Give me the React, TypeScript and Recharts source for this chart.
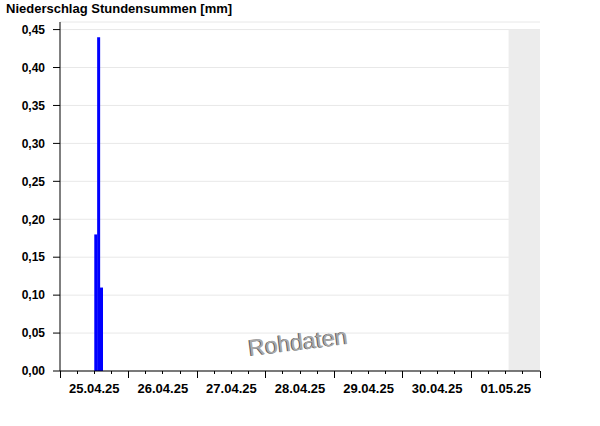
import {
  ComposedChart,
  Bar,
  XAxis,
  YAxis,
  CartesianGrid,
  ReferenceArea,
} from 'recharts'

const FONT = '"Liberation Sans", Arial, sans-serif'

// Stundensummen am 25.04.25: Ende der Stunde (h ab 25.04. 00:00) und Wert in mm
const rainHourEnd = [13, 14, 15]
const rainValues = [0.18, 0.44, 0.11]

// Tageslabels (mittig, 12:00 Uhr)
const dayLabels = ['25.04.25', '26.04.25', '27.04.25', '28.04.25', '29.04.25', '30.04.25', '01.05.25']

// Ticks alle 6 Stunden
const xTicks = [
  0, 6, 12, 18, 24, 30, 36, 42, 48, 54, 60, 66, 72, 78, 84, 90, 96, 102, 108, 114, 120, 126,
  132, 138, 144, 150, 156, 162, 168,
]
const yTicks = [0, 0.05, 0.1, 0.15, 0.2, 0.25, 0.3, 0.35, 0.4, 0.45]
const yTickLabels = ['0,00', '0,05', '0,10', '0,15', '0,20', '0,25', '0,30', '0,35', '0,40', '0,45']

// letzter Messwert 01.05.25 13:00 -> danach grau (keine Daten)
const lastDataHour = 157
const endHour = 168

const data = rainHourEnd.map((h, i) => ({ hour: h - 0.5, value: rainValues[i] }))

function XTick(props: any) {
  const { x, y, payload } = props
  const v = payload.value as number
  const major = v % 24 === 0
  const label = v % 24 === 12 ? dayLabels[Math.floor(v / 24)] : null
  return (
    <g>
      <line x1={x} x2={x} y1={y} y2={y + (major ? 7 : 3)} stroke="#000" shapeRendering="crispEdges" />
      {label && (
        <text
          x={x}
          y={y + 22}
          textAnchor="middle"
          fill="#000"
          fontSize={13}
          fontWeight="bold"
          fontFamily={FONT}
        >
          {label}
        </text>
      )}
    </g>
  )
}

export default function App() {
  return (
    <div style={{ position: 'absolute', left: 0, top: 0, width: 600, height: 426, background: '#fff' }}>
      <div
        style={{
          position: 'absolute',
          left: 6,
          top: 2,
          fontFamily: FONT,
          fontSize: 13,
          fontWeight: 'bold',
          lineHeight: 1,
          color: '#000',
        }}
      >
        Niederschlag Stundensummen [mm]
      </div>
      <ComposedChart
        width={600}
        height={426}
        data={data}
        margin={{ top: 22, right: 60, bottom: 25, left: 0 }}
        barCategoryGap={0}
        barGap={0}
      >
        <CartesianGrid vertical={false} stroke="#e8e8e8" />
        <XAxis
          dataKey="hour"
          type="number"
          domain={[0, endHour]}
          ticks={xTicks}
          interval={0}
          height={30}
          tickSize={0}
          tickMargin={0}
          tickLine={false}
          axisLine={{ stroke: '#000' }}
          tick={<XTick />}
          allowDataOverflow
        />
        <YAxis
          type="number"
          domain={[0, 0.46]}
          ticks={yTicks}
          interval={0}
          width={60}
          tickSize={7}
          tickMargin={8}
          tickFormatter={(_v: number, i: number) => yTickLabels[i]}
          tick={{ fill: '#000', fontSize: 12, fontWeight: 'bold', fontFamily: FONT }}
          tickLine={{ stroke: '#000' }}
          axisLine={{ stroke: '#000' }}
          allowDataOverflow
        />
        <YAxis
          yAxisId="r"
          orientation="right"
          type="number"
          domain={[0, 0.46]}
          width={0}
          tick={false}
          tickLine={false}
          axisLine={{ stroke: '#000' }}
        />
        <ReferenceArea
          x1={lastDataHour}
          x2={endHour}
          y1={0}
          y2={0.45}
          fill="#ececec"
          fillOpacity={1}
          stroke="none"
        />
        <Bar dataKey="value" fill="#0000ff" isAnimationActive={false} />
      </ComposedChart>
      <div
        style={{
          position: 'absolute',
          left: 250,
          top: 337,
          fontFamily: FONT,
          fontSize: 23,
          lineHeight: 1,
          color: '#a8a8a8',
          textShadow: '-1px 0 0 #5a5a5a',
          transform: 'rotate(-7deg)',
          transformOrigin: 'left bottom',
        }}
      >
        Rohdaten
      </div>
    </div>
  )
}
